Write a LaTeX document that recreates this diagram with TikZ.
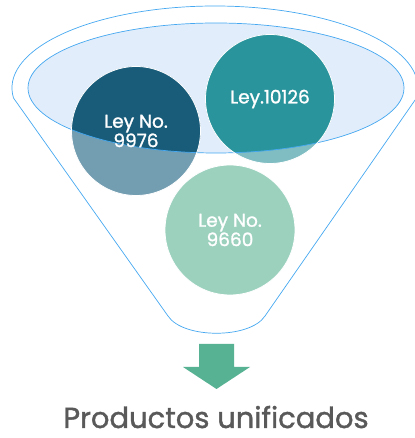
\documentclass[tikz,border=0pt]{standalone}
\usepackage{fontspec}
\setmainfont{Poppins}[FakeBold=1.3]
\usepackage{tikz}

\definecolor{funnelblue}{HTML}{45A8F0}
\definecolor{rimfill}{HTML}{E1EDFB}
\definecolor{darkA}{HTML}{185C7A}
\definecolor{lightA}{HTML}{739DB1}
\definecolor{darkB}{HTML}{2A949C}
\definecolor{lightB}{HTML}{80BDC2}
\definecolor{greenC}{HTML}{9CD1BE}
\definecolor{arrowgreen}{HTML}{57B294}
\definecolor{captiongray}{HTML}{595959}

\tikzset{
  funnel/.style={draw=funnelblue, line width=0.7pt},
  law/.style={circle, draw=white, line width=0.8pt, minimum size=129pt, inner sep=0pt,
    align=center, text=white, font=\fontsize{18.5}{16.5}\selectfont}
}

\begin{document}
\begin{tikzpicture}[x=1pt, y=1pt]
					\useasboundingbox (0,0) rectangle (414,438);
					\coordinate (A) at (136,307);
					\coordinate (B) at (270,339);
					\coordinate (C) at (230,208);
					\coordinate (rim) at (216,350);
					
					% funnel body
					\draw[funnel] (13.5,340) arc[start angle=187, end angle=-7, x radius=203pt, y radius=82pt]
						-- (265,122) .. controls (250,99) and (183,99) .. (168,122) -- cycle;
					\fill[rimfill] (rim) ellipse (188pt and 65pt);
					
					% the three circles
					\fill[lightA] (A) circle (64.5pt);
					\fill[lightB] (B) circle (64.5pt);
					\fill[greenC] (C) circle (65pt);
					\begin{scope}
						\clip (rim) ellipse (188pt and 65pt);
						\fill[darkA] (A) circle (64.5pt);
						\fill[darkB] (B) circle (64.5pt);
					\end{scope}
					\draw[funnel] (rim) ellipse (188pt and 65pt);
					
					\node[law] (ley9976) at (A) {Ley No.\\9976};
					\node[law] (ley10126) at (B) {Ley.10126};
					\node[law, minimum size=130pt] (ley9660) at (C) {Ley No.\\9660};
					
					% output arrow
					\fill[arrowgreen] (199,94) -- (234,94) -- (234,71) -- (250,71) -- (216.5,49)
						-- (183,71) -- (199,71) -- cycle;
					\node[anchor=base, inner sep=0pt, text depth=0pt, text=captiongray, font=\fontsize{29}{30}\selectfont] (result) at (216,10) {Productos unificados};
				\end{tikzpicture}
\end{document}
